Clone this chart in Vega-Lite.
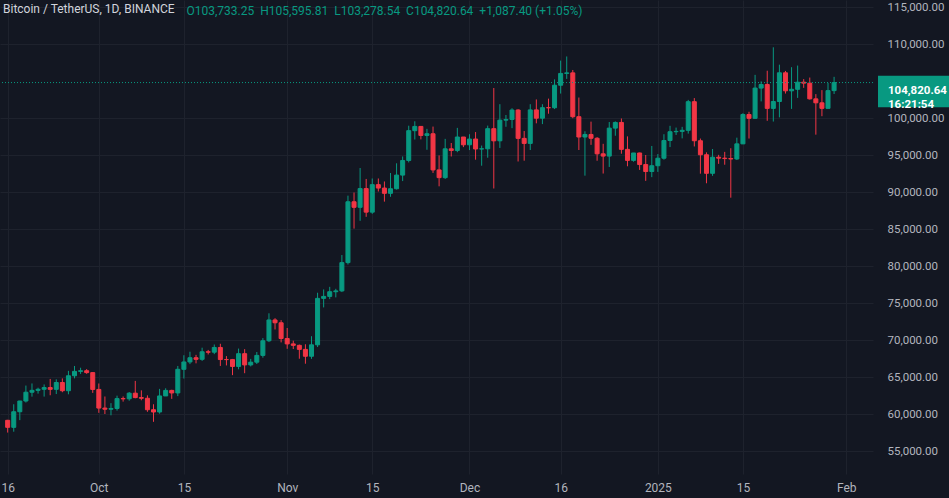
{
  "$schema": "https://vega.github.io/schema/vega-lite/v6.json",
  "width": 873,
  "height": 474,
  "autosize": {"type": "none"},
  "padding": {"left": 0, "top": 0, "right": 76, "bottom": 24},
  "background": "#131722",
  "config": {
    "view": {"stroke": null},
    "font": "Roboto",
    "axis": {"labelFont": "Roboto", "titleFont": "Roboto"}
  },
  "title": {
    "text": "Bitcoin / TetherUS, 1D, BINANCE",
    "anchor": "start",
    "frame": "group",
    "orient": "top",
    "offset": -16,
    "dx": 3,
    "font": "Roboto",
    "fontSize": 12,
    "fontWeight": "normal",
    "color": "#d1d4dc"
  },
  "layer": [
    {
      "data": {
        "values": [
          {"date": "2024-09-16", "open": 59150, "high": 59210, "low": 57493, "close": 58200},
          {"date": "2024-09-17", "open": 58200, "high": 61320, "low": 57610, "close": 60309},
          {"date": "2024-09-18", "open": 60309, "high": 61786, "low": 59174, "close": 61759},
          {"date": "2024-09-19", "open": 61759, "high": 63850, "low": 61555, "close": 62947},
          {"date": "2024-09-20", "open": 62947, "high": 64133, "low": 62350, "close": 63201},
          {"date": "2024-09-21", "open": 63201, "high": 63559, "low": 62758, "close": 63348},
          {"date": "2024-09-22", "open": 63348, "high": 64000, "low": 62357, "close": 63578},
          {"date": "2024-09-23", "open": 63578, "high": 64745, "low": 62538, "close": 63339},
          {"date": "2024-09-24", "open": 63339, "high": 64688, "low": 62700, "close": 64262},
          {"date": "2024-09-25", "open": 64262, "high": 64817, "low": 62947, "close": 63152},
          {"date": "2024-09-26", "open": 63152, "high": 65839, "low": 62670, "close": 65173},
          {"date": "2024-09-27", "open": 65173, "high": 66498, "low": 64819, "close": 65769},
          {"date": "2024-09-28", "open": 65769, "high": 66260, "low": 65422, "close": 65858},
          {"date": "2024-09-29", "open": 65858, "high": 66076, "low": 65432, "close": 65602},
          {"date": "2024-09-30", "open": 65602, "high": 65618, "low": 62856, "close": 63327},
          {"date": "2024-10-01", "open": 63327, "high": 64130, "low": 60164, "close": 60805},
          {"date": "2024-10-02", "open": 60805, "high": 62370, "low": 60000, "close": 60649},
          {"date": "2024-10-03", "open": 60649, "high": 61470, "low": 59828, "close": 60752},
          {"date": "2024-10-04", "open": 60752, "high": 62484, "low": 60460, "close": 62086},
          {"date": "2024-10-05", "open": 62086, "high": 62370, "low": 61675, "close": 62058},
          {"date": "2024-10-06", "open": 62058, "high": 62975, "low": 61798, "close": 62819},
          {"date": "2024-10-07", "open": 62819, "high": 64478, "low": 62128, "close": 62224},
          {"date": "2024-10-08", "open": 62224, "high": 63200, "low": 61860, "close": 62131},
          {"date": "2024-10-09", "open": 62131, "high": 62523, "low": 60300, "close": 60582},
          {"date": "2024-10-10", "open": 60582, "high": 61320, "low": 58946, "close": 60275},
          {"date": "2024-10-11", "open": 60275, "high": 63400, "low": 60046, "close": 62445},
          {"date": "2024-10-12", "open": 62445, "high": 63480, "low": 62445, "close": 63193},
          {"date": "2024-10-13", "open": 63193, "high": 63285, "low": 62050, "close": 62851},
          {"date": "2024-10-14", "open": 62851, "high": 66500, "low": 62422, "close": 66047},
          {"date": "2024-10-15", "open": 66047, "high": 67950, "low": 64800, "close": 67041},
          {"date": "2024-10-16", "open": 67041, "high": 68424, "low": 66750, "close": 67612},
          {"date": "2024-10-17", "open": 67612, "high": 68000, "low": 66854, "close": 67399},
          {"date": "2024-10-18", "open": 67399, "high": 68969, "low": 67177, "close": 68418},
          {"date": "2024-10-19", "open": 68418, "high": 68670, "low": 68052, "close": 68362},
          {"date": "2024-10-20", "open": 68362, "high": 69400, "low": 68100, "close": 69001},
          {"date": "2024-10-21", "open": 69001, "high": 69500, "low": 66500, "close": 67367},
          {"date": "2024-10-22", "open": 67367, "high": 67836, "low": 66571, "close": 67361},
          {"date": "2024-10-23", "open": 67361, "high": 67451, "low": 65260, "close": 66432},
          {"date": "2024-10-24", "open": 66432, "high": 68850, "low": 66048, "close": 68161},
          {"date": "2024-10-25", "open": 68161, "high": 68771, "low": 65520, "close": 66642},
          {"date": "2024-10-26", "open": 66642, "high": 67454, "low": 66439, "close": 67014},
          {"date": "2024-10-27", "open": 67014, "high": 68387, "low": 66761, "close": 67929},
          {"date": "2024-10-28", "open": 67929, "high": 70270, "low": 67618, "close": 69907},
          {"date": "2024-10-29", "open": 69907, "high": 73620, "low": 69729, "close": 72720},
          {"date": "2024-10-30", "open": 72720, "high": 72961, "low": 71436, "close": 72339},
          {"date": "2024-10-31", "open": 72339, "high": 72700, "low": 69685, "close": 70215},
          {"date": "2024-11-01", "open": 70215, "high": 71632, "low": 68820, "close": 69482},
          {"date": "2024-11-02", "open": 69482, "high": 69914, "low": 68788, "close": 69289},
          {"date": "2024-11-03", "open": 69289, "high": 69388, "low": 67478, "close": 68741},
          {"date": "2024-11-04", "open": 68741, "high": 69433, "low": 66803, "close": 67811},
          {"date": "2024-11-05", "open": 67811, "high": 70522, "low": 67458, "close": 69359},
          {"date": "2024-11-06", "open": 69359, "high": 76400, "low": 69058, "close": 75639},
          {"date": "2024-11-07", "open": 75639, "high": 76849, "low": 74416, "close": 75905},
          {"date": "2024-11-08", "open": 75905, "high": 77199, "low": 75538, "close": 76538},
          {"date": "2024-11-09", "open": 76538, "high": 76932, "low": 75773, "close": 76649},
          {"date": "2024-11-10", "open": 76649, "high": 81500, "low": 76492, "close": 80474},
          {"date": "2024-11-11", "open": 80474, "high": 89530, "low": 80216, "close": 88701},
          {"date": "2024-11-12", "open": 88701, "high": 89956, "low": 85072, "close": 87955},
          {"date": "2024-11-13", "open": 87955, "high": 93265, "low": 86127, "close": 90485},
          {"date": "2024-11-14", "open": 90485, "high": 91790, "low": 86668, "close": 87300},
          {"date": "2024-11-15", "open": 87300, "high": 91850, "low": 87074, "close": 91016},
          {"date": "2024-11-16", "open": 91016, "high": 91850, "low": 90091, "close": 90558},
          {"date": "2024-11-17", "open": 90558, "high": 91449, "low": 88722, "close": 89845},
          {"date": "2024-11-18", "open": 89845, "high": 92594, "low": 89376, "close": 90464},
          {"date": "2024-11-19", "open": 90464, "high": 93905, "low": 90357, "close": 92310},
          {"date": "2024-11-20", "open": 92310, "high": 94831, "low": 91500, "close": 94286},
          {"date": "2024-11-21", "open": 94286, "high": 98988, "low": 94020, "close": 98317},
          {"date": "2024-11-22", "open": 98317, "high": 99588, "low": 97122, "close": 98892},
          {"date": "2024-11-23", "open": 98892, "high": 98945, "low": 97136, "close": 97673},
          {"date": "2024-11-24", "open": 97673, "high": 98564, "low": 95734, "close": 97900},
          {"date": "2024-11-25", "open": 97900, "high": 98871, "low": 92600, "close": 93010},
          {"date": "2024-11-26", "open": 93010, "high": 94973, "low": 90791, "close": 91965},
          {"date": "2024-11-27", "open": 91965, "high": 97208, "low": 91792, "close": 95863},
          {"date": "2024-11-28", "open": 95863, "high": 96650, "low": 94827, "close": 95643},
          {"date": "2024-11-29", "open": 95643, "high": 98693, "low": 95407, "close": 97460},
          {"date": "2024-11-30", "open": 97460, "high": 97463, "low": 96092, "close": 96407},
          {"date": "2024-12-01", "open": 96407, "high": 97836, "low": 95693, "close": 97185},
          {"date": "2024-12-02", "open": 97185, "high": 98130, "low": 94395, "close": 95840},
          {"date": "2024-12-03", "open": 95840, "high": 96305, "low": 93578, "close": 95865},
          {"date": "2024-12-04", "open": 95865, "high": 99000, "low": 94660, "close": 98587},
          {"date": "2024-12-05", "open": 98587, "high": 104088, "low": 90500, "close": 96945},
          {"date": "2024-12-06", "open": 96945, "high": 101898, "low": 95981, "close": 99740},
          {"date": "2024-12-07", "open": 99740, "high": 100439, "low": 98844, "close": 99831},
          {"date": "2024-12-08", "open": 99831, "high": 101350, "low": 98657, "close": 101109},
          {"date": "2024-12-09", "open": 101109, "high": 101215, "low": 94150, "close": 97276},
          {"date": "2024-12-10", "open": 97276, "high": 98270, "low": 94256, "close": 96593},
          {"date": "2024-12-11", "open": 96593, "high": 101895, "low": 95700, "close": 101125},
          {"date": "2024-12-12", "open": 101125, "high": 102540, "low": 99311, "close": 100005},
          {"date": "2024-12-13", "open": 100005, "high": 101895, "low": 99205, "close": 101424},
          {"date": "2024-12-14", "open": 101424, "high": 102650, "low": 100610, "close": 101420},
          {"date": "2024-12-15", "open": 101420, "high": 105250, "low": 101237, "close": 104463},
          {"date": "2024-12-16", "open": 104463, "high": 107793, "low": 103333, "close": 106058},
          {"date": "2024-12-17", "open": 106058, "high": 108353, "low": 105321, "close": 106133},
          {"date": "2024-12-18", "open": 106133, "high": 106524, "low": 100000, "close": 100204},
          {"date": "2024-12-19", "open": 100204, "high": 102800, "low": 95700, "close": 97461},
          {"date": "2024-12-20", "open": 97461, "high": 98233, "low": 92232, "close": 97805},
          {"date": "2024-12-21", "open": 97805, "high": 99540, "low": 96398, "close": 97291},
          {"date": "2024-12-22", "open": 97291, "high": 97448, "low": 94250, "close": 95186},
          {"date": "2024-12-23", "open": 95186, "high": 96539, "low": 92520, "close": 94881},
          {"date": "2024-12-24", "open": 94881, "high": 99487, "low": 93410, "close": 98663},
          {"date": "2024-12-25", "open": 98663, "high": 99569, "low": 97632, "close": 99430},
          {"date": "2024-12-26", "open": 99430, "high": 99963, "low": 95199, "close": 95791},
          {"date": "2024-12-27", "open": 95791, "high": 97544, "low": 93500, "close": 94299},
          {"date": "2024-12-28", "open": 94299, "high": 95300, "low": 94117, "close": 95300},
          {"date": "2024-12-29", "open": 95300, "high": 95340, "low": 93009, "close": 93738},
          {"date": "2024-12-30", "open": 93738, "high": 95024, "low": 91530, "close": 92792},
          {"date": "2024-12-31", "open": 92792, "high": 96250, "low": 92033, "close": 93576},
          {"date": "2025-01-01", "open": 93576, "high": 95151, "low": 92743, "close": 94591},
          {"date": "2025-01-02", "open": 94591, "high": 97839, "low": 94393, "close": 96984},
          {"date": "2025-01-03", "open": 96984, "high": 98976, "low": 96100, "close": 98174},
          {"date": "2025-01-04", "open": 98174, "high": 98734, "low": 97735, "close": 98220},
          {"date": "2025-01-05", "open": 98220, "high": 98836, "low": 97276, "close": 98364},
          {"date": "2025-01-06", "open": 98364, "high": 102480, "low": 97920, "close": 102235},
          {"date": "2025-01-07", "open": 102235, "high": 102724, "low": 96181, "close": 96954},
          {"date": "2025-01-08", "open": 96954, "high": 97250, "low": 92500, "close": 95060},
          {"date": "2025-01-09", "open": 95060, "high": 95382, "low": 91203, "close": 92552},
          {"date": "2025-01-10", "open": 92552, "high": 95836, "low": 92206, "close": 94726},
          {"date": "2025-01-11", "open": 94726, "high": 95050, "low": 93831, "close": 94599},
          {"date": "2025-01-12", "open": 94599, "high": 95450, "low": 93711, "close": 94546},
          {"date": "2025-01-13", "open": 94546, "high": 95940, "low": 89256, "close": 94488},
          {"date": "2025-01-14", "open": 94488, "high": 97371, "low": 94346, "close": 96534},
          {"date": "2025-01-15", "open": 96534, "high": 100681, "low": 96500, "close": 100505},
          {"date": "2025-01-16", "open": 100505, "high": 100873, "low": 97255, "close": 99987},
          {"date": "2025-01-17", "open": 99987, "high": 105865, "low": 99950, "close": 104077},
          {"date": "2025-01-18", "open": 104077, "high": 104988, "low": 102277, "close": 104557},
          {"date": "2025-01-19", "open": 104557, "high": 106422, "low": 99651, "close": 101331},
          {"date": "2025-01-20", "open": 101331, "high": 109588, "low": 99550, "close": 102260},
          {"date": "2025-01-21", "open": 102260, "high": 107240, "low": 100119, "close": 106143},
          {"date": "2025-01-22", "open": 106143, "high": 106394, "low": 103339, "close": 103706},
          {"date": "2025-01-23", "open": 103706, "high": 106900, "low": 101262, "close": 103910},
          {"date": "2025-01-24", "open": 103910, "high": 107120, "low": 102750, "close": 104870},
          {"date": "2025-01-25", "open": 104870, "high": 105286, "low": 104106, "close": 104746},
          {"date": "2025-01-26", "open": 104746, "high": 105500, "low": 102520, "close": 102620},
          {"date": "2025-01-27", "open": 102620, "high": 103260, "low": 97777, "close": 102082},
          {"date": "2025-01-28", "open": 102082, "high": 103800, "low": 100272, "close": 101335},
          {"date": "2025-01-29", "open": 101335, "high": 104782, "low": 101328, "close": 103733.25},
          {"date": "2025-01-30", "open": 103733.25, "high": 105595.81, "low": 103278.54, "close": 104820.64}
        ]
      },
      "encoding": {
        "x": {
          "field": "date",
          "type": "temporal",
          "scale": {
            "type": "utc",
            "domain": [
              {"year": 2024, "month": 9, "date": 15, "hours": 13, "minutes": 28, "utc": true},
              {"year": 2025, "month": 2, "date": 4, "hours": 13, "minutes": 57, "utc": true}
            ]
          },
          "axis": {
            "title": "O103,733.25 \u00a0H105,595.81 \u00a0L103,278.54 \u00a0C104,820.64 \u00a0+1,087.40 (+1.05%)",
            "titleColor": "#089981",
            "titleFont": "Roboto",
            "titleFontSize": 12,
            "titleFontWeight": "normal",
            "titleAnchor": "start",
            "titleAlign": "left",
            "titleBaseline": "middle",
            "titleLimit": 0,
            "titleX": 186,
            "titleY": -464,
            "values": [
              {"year": 2024, "month": 9, "date": 16, "utc": true},
              {"year": 2024, "month": 10, "date": 1, "utc": true},
              {"year": 2024, "month": 10, "date": 15, "utc": true},
              {"year": 2024, "month": 11, "date": 1, "utc": true},
              {"year": 2024, "month": 11, "date": 15, "utc": true},
              {"year": 2024, "month": 12, "date": 1, "utc": true},
              {"year": 2024, "month": 12, "date": 16, "utc": true},
              {"year": 2025, "month": 1, "date": 1, "utc": true},
              {"year": 2025, "month": 1, "date": 15, "utc": true},
              {"year": 2025, "month": 2, "date": 1, "utc": true}
            ],
            "labelExpr": "utcdate(datum.value) == 1 ? (utcmonth(datum.value) == 0 ? utcFormat(datum.value, '%Y') : utcFormat(datum.value, '%b')) : utcFormat(datum.value, '%-d')",
            "grid": true,
            "gridColor": "#1e222d",
            "gridWidth": 1,
            "ticks": false,
            "domain": false,
            "labelPadding": 8,
            "labelColor": "#b2b5be",
            "labelFontSize": 12,
            "labelFlush": false,
            "labelOverlap": false,
            "labelBound": false
          }
        },
        "y": {
          "field": "low",
          "type": "quantitative",
          "scale": {"domain": [51890, 115987], "nice": false, "zero": false},
          "axis": {
            "title": null,
            "orient": "right",
            "values": [55000, 60000, 65000, 70000, 75000, 80000, 85000, 90000, 95000, 100000, 110000, 115000],
            "format": ",.2f",
            "grid": true,
            "gridColor": "#1e222d",
            "gridWidth": 1,
            "ticks": false,
            "domain": false,
            "labelPadding": 14,
            "labelColor": "#b2b5be",
            "labelFontSize": 11.5,
            "labelOverlap": false
          }
        },
        "color": {"condition": {"test": "datum.close >= datum.open", "value": "#089981"}, "value": "#f23645"}
      },
      "layer": [
        {
          "mark": {"type": "rule", "strokeWidth": 1},
          "encoding": {
            "y2": {"field": "high"}
          }
        },
        {
          "mark": {"type": "bar", "size": 4, "strokeWidth": 1},
          "encoding": {
            "y": {
              "field": "open",
              "type": "quantitative",
              "axis": {
                "title": null,
                "orient": "right",
                "values": [55000, 60000, 65000, 70000, 75000, 80000, 85000, 90000, 95000, 100000, 110000, 115000],
                "format": ",.2f",
                "grid": true,
                "gridColor": "#1e222d",
                "gridWidth": 1,
                "ticks": false,
                "domain": false,
                "labelPadding": 14,
                "labelColor": "#b2b5be",
                "labelFontSize": 11.5,
                "labelOverlap": false
              }
            },
            "y2": {"field": "close"},
            "stroke": {"condition": {"test": "datum.close >= datum.open", "value": "#089981"}, "value": "#f23645"}
          }
        }
      ]
    },
    {
      "data": {"values": [{"price": 104820.64}]},
      "mark": {"type": "rule", "color": "#089981", "strokeWidth": 1, "strokeDash": [1, 2]},
      "encoding": {
        "y": {
          "field": "price",
          "type": "quantitative",
          "axis": {
            "title": null,
            "orient": "right",
            "values": [104820.64],
            "labelExpr": "['104,820.64', '16:21:54']",
            "grid": false,
            "domain": false,
            "ticks": true,
            "tickSize": 72,
            "tickWidth": 31.5,
            "tickColor": "#089981",
            "tickOffset": 8,
            "offset": 4.5,
            "labelPadding": -62,
            "labelColor": "#ffffff",
            "labelFontWeight": "bold",
            "labelFontSize": 11.5,
            "labelLineHeight": 13.5,
            "labelOverlap": false
          }
        }
      }
    }
  ],
  "resolve": {"axis": {"y": "independent"}}
}
